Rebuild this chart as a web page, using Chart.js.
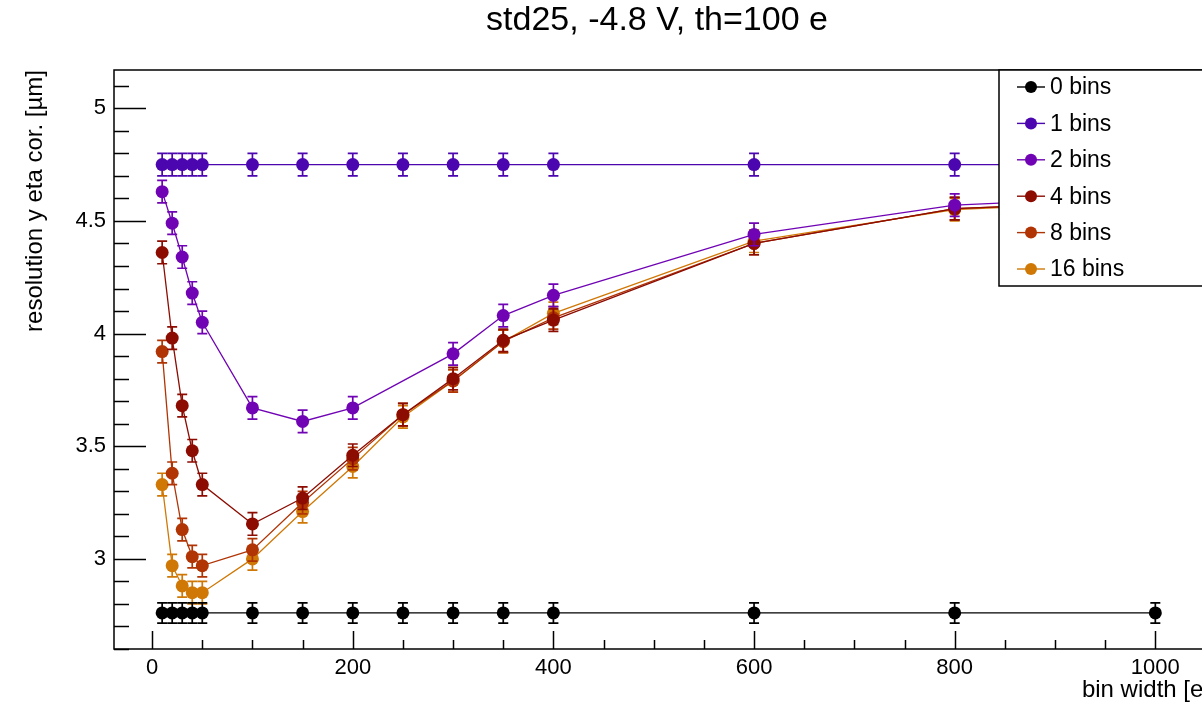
<!DOCTYPE html>
<html>
<head>
<meta charset="utf-8">
<title>std25 resolution vs bin width</title>
<script src="https://cdn.jsdelivr.net/npm/chart.js@4.4.1/dist/chart.umd.min.js"></script>
<style>
  html, body { margin: 0; padding: 0; background: #ffffff; overflow: hidden; }
  #chartBox { width: 1215px; height: 703px; }
</style>
</head>
<body>
<div id="chartBox"><canvas id="resolutionChart" width="1215" height="703"></canvas></div>
<script>
// bin widths [e]
const binWidths = [10, 20, 30, 40, 50, 100, 150, 200, 250, 300, 350, 400, 600, 800, 1000];

// resolution y eta cor. [um], one list per number of bins
const bins0 = [2.76, 2.76, 2.76, 2.76, 2.76, 2.76, 2.76, 2.76, 2.76, 2.76, 2.76, 2.76, 2.76, 2.76, 2.76];
const bins1 = [4.75, 4.75, 4.75, 4.75, 4.75, 4.75, 4.75, 4.75, 4.75, 4.75, 4.75, 4.75, 4.75, 4.75, 4.75];
const bins2 = [4.63, 4.49, 4.34, 4.18, 4.05, 3.67, 3.61, 3.67, null, 3.91, 4.08, 4.17, 4.44, 4.57, 4.61];
const bins4 = [4.36, 3.98, 3.68, 3.48, 3.33, 3.155, 3.27, 3.46, 3.64, 3.80, 3.97, 4.06, 4.40, 4.555, 4.59];
const bins8 = [3.92, 3.38, 3.13, 3.01, 2.97, 3.04, 3.25, 3.445, 3.64, 3.79, 3.965, 4.07, 4.40, 4.555, 4.59];
const bins16 = [3.33, 2.97, 2.88, 2.85, 2.85, 3.00, 3.21, 3.41, 3.63, 3.79, 3.965, 4.09, 4.41, 4.55, 4.59];

// error on each series
const seriesErrors = [0.045, 0.05, 0.05, 0.05, 0.05, 0.05];

const seriesNames = ["0 bins", "1 bins", "2 bins", "4 bins", "8 bins", "16 bins"];
const seriesValues = [bins0, bins1, bins2, bins4, bins8, bins16];
const seriesColors = ["#000000", "#4c06b0", "#7004b4", "#8c0c02", "#b03404", "#d07806"];

// axis ticks
const xTickValues = [0, 200, 400, 600, 800, 1000];
const yTickValues = [3, 3.5, 4, 4.5, 5];

const FONT = "'Liberation Sans', Arial, Helvetica, sans-serif";

document.addEventListener("DOMContentLoaded", function () {
  createResolutionChart(document.getElementById("resolutionChart"));
});

/**
 * Draw the ROOT-like frame, inner ticks, titles, error bars and legend
 */
const rootStylePlugin = {
  id: "rootStyle",

  beforeDatasetDraw: function (chart, args) {
    // error bars under each series' markers
    const ctx = chart.ctx;
    const meta = args.meta;
    const ds = chart.data.datasets[args.index];
    const yScale = chart.scales.y;
    ctx.save();
    ctx.strokeStyle = ds.borderColor;
    ctx.lineWidth = 1.7;
    meta.data.forEach(function (pt, i) {
      const v = ds.data[i].y;
      if (v === null || v === undefined) return;
      const yTop = yScale.getPixelForValue(v + ds.errorBar);
      const yBot = yScale.getPixelForValue(v - ds.errorBar);
      ctx.beginPath();
      ctx.moveTo(pt.x, yTop);
      ctx.lineTo(pt.x, yBot);
      ctx.moveTo(pt.x - 5, yTop);
      ctx.lineTo(pt.x + 5, yTop);
      ctx.moveTo(pt.x - 5, yBot);
      ctx.lineTo(pt.x + 5, yBot);
      ctx.stroke();
    });
    ctx.restore();
  },

  afterDraw: function (chart) {
    const ctx = chart.ctx;
    const area = chart.chartArea;
    const xScale = chart.scales.x;
    const yScale = chart.scales.y;

    ctx.save();
    ctx.strokeStyle = "#000000";
    ctx.lineWidth = 1.5;

    // frame
    ctx.strokeRect(area.left, area.top, area.right - area.left, area.bottom - area.top);

    // y ticks (pointing inward)
    ctx.beginPath();
    for (let k = 26; k <= 51; k++) {
      const v = k / 10;
      const py = Math.round(yScale.getPixelForValue(v)) + 0.5;
      if (py < area.top - 1 || py > area.bottom + 1) continue;
      const len = (k % 5 === 0) ? 32 : 15;
      ctx.moveTo(area.left, py);
      ctx.lineTo(area.left + len, py);
    }
    // x ticks (pointing inward)
    for (let v = 0; v <= 1050; v += 50) {
      const px = Math.round(xScale.getPixelForValue(v)) + 0.5;
      const len = (v % 200 === 0) ? 18 : 9;
      ctx.moveTo(px, area.bottom);
      ctx.lineTo(px, area.bottom - len);
    }
    ctx.stroke();

    // titles
    ctx.fillStyle = "#000000";
    ctx.font = "34px " + FONT;
    ctx.textAlign = "center";
    ctx.textBaseline = "middle";
    ctx.fillText("std25, -4.8 V, th=100 e", 657, 21);

    ctx.font = "24px " + FONT;
    ctx.textAlign = "right";
    ctx.fillText("bin width [e]", 1210, 690);

    ctx.save();
    ctx.translate(35, area.top);
    ctx.rotate(-Math.PI / 2);
    ctx.textAlign = "right";
    ctx.fillText("resolution y eta cor. [\u00b5m]", 0, 0);
    ctx.restore();

    // legend box on top of the data
    const lx = 999, ly = 70, lw = 220, lh = 216;
    ctx.fillStyle = "#ffffff";
    ctx.fillRect(lx, ly, lw, lh);
    ctx.lineWidth = 1.5;
    ctx.strokeRect(lx, ly, lw, lh);
    chart.data.datasets.forEach(function (ds, i) {
      const cy = 87 + i * 36.4;
      ctx.strokeStyle = ds.borderColor;
      ctx.lineWidth = 1.4;
      ctx.beginPath();
      ctx.moveTo(1017, cy);
      ctx.lineTo(1045, cy);
      ctx.stroke();
      ctx.fillStyle = ds.borderColor;
      ctx.beginPath();
      ctx.arc(1031, cy, 6, 0, Math.PI * 2);
      ctx.fill();
      ctx.fillStyle = "#000000";
      ctx.font = "23px " + FONT;
      ctx.textAlign = "left";
      ctx.textBaseline = "middle";
      ctx.fillText(ds.label, 1050, cy + 1);
    });
    ctx.restore();
  },
};

/**
 * Build the line chart with error bars
 * @param {HTMLElement} canvas - The canvas element
 */
function createResolutionChart(canvas) {
  const ctx = canvas.getContext("2d");

  const datasets = seriesNames.map(function (name, i) {
    return {
      label: name,
      data: binWidths.map(function (x, j) {
        return { x: x, y: seriesValues[i][j] };
      }),
      errorBar: seriesErrors[i],
      borderColor: seriesColors[i],
      backgroundColor: seriesColors[i],
      borderWidth: 1.3,
      pointRadius: 6.5,
      pointHoverRadius: 6.5,
      pointBorderWidth: 0,
      spanGaps: true,
      tension: 0,
    };
  });

  new Chart(ctx, {
    type: "line",
    data: { datasets: datasets },
    plugins: [rootStylePlugin],
    options: {
      responsive: false,
      animation: false,
      devicePixelRatio: 1,
      layout: { padding: { left: 0, top: 70, right: 5, bottom: 0 } },
      scales: {
        x: {
          type: "linear",
          min: -38,
          max: 1053,
          afterBuildTicks: function (scale) {
            scale.ticks = xTickValues.map((v) => ({ value: v }));
          },
          afterFit: function (scale) {
            scale.height = 54;
          },
          grid: { display: false, drawTicks: false },
          border: { display: false },
          ticks: {
            padding: 6,
            maxRotation: 0,
            autoSkip: false,
            color: "#000000",
            font: { family: FONT, size: 22 },
            callback: function (value) {
              return String(value);
            },
          },
        },
        y: {
          type: "linear",
          min: 2.6,
          max: 5.17,
          afterBuildTicks: function (scale) {
            scale.ticks = yTickValues.map((v) => ({ value: v }));
          },
          afterFit: function (scale) {
            scale.width = 114;
          },
          grid: { display: false, drawTicks: false },
          border: { display: false },
          ticks: {
            padding: 8,
            autoSkip: false,
            color: "#000000",
            font: { family: FONT, size: 22 },
            callback: function (value) {
              return String(value);
            },
          },
        },
      },
      plugins: {
        legend: { display: false },
        title: { display: false },
        tooltip: { enabled: false },
      },
    },
  });
}
</script>
</body>
</html>
